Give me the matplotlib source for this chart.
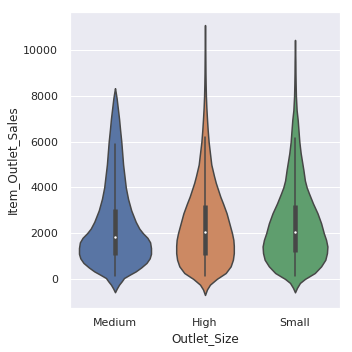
import numpy as np
import matplotlib
matplotlib.use("Agg")
import matplotlib.pyplot as plt
import seaborn as sns

sns.set_theme(style="darkgrid")

sizes = ["Medium", "High", "Small"]

# violin outlines: sales value -> half width (category units)
medium_y = [-580, -420, -250, -100, 40, 200, 330, 500, 700, 900, 1100, 1350, 1600,
            1800, 2000, 2200, 2500, 3000, 3500, 4000, 4500, 5000, 5500, 6000, 6500,
            7000, 7500, 7900, 8150, 8340]
medium_w = [0, 0.02, 0.045, 0.075, 0.10, 0.17, 0.23, 0.29, 0.35, 0.385, 0.40, 0.40,
            0.39, 0.36, 0.31, 0.27, 0.23, 0.18, 0.145, 0.12, 0.105, 0.09, 0.08, 0.07,
            0.057, 0.045, 0.03, 0.018, 0.008, 0]

high_y = [-700, -460, -250, 0, 260, 550, 840, 1130, 1450, 1710, 2000, 2435, 2870,
          3300, 3600, 3900, 4200, 4500, 5000, 5500, 6000, 6500, 7000, 7500, 8000,
          8500, 9000, 9500, 10000, 10500, 11100]
high_w = [0, 0.022, 0.055, 0.13, 0.23, 0.285, 0.31, 0.32, 0.32, 0.315, 0.30, 0.27,
          0.24, 0.20, 0.17, 0.145, 0.12, 0.10, 0.07, 0.055, 0.04, 0.03, 0.022, 0.015,
          0.01, 0.007, 0.005, 0.004, 0.003, 0.002, 0]

small_y = [-585, -390, -174, 0, 260, 550, 840, 1130, 1420, 1710, 2000, 2435, 2870,
           3300, 3740, 4000, 4300, 4770, 5500, 6000, 6950, 7380, 8000, 8500, 9000,
           9500, 10000, 10450]
small_w = [0, 0.022, 0.055, 0.11, 0.22, 0.29, 0.337, 0.355, 0.36, 0.345, 0.32, 0.29,
           0.25, 0.20, 0.155, 0.13, 0.11, 0.093, 0.063, 0.048, 0.03, 0.018, 0.01,
           0.007, 0.005, 0.004, 0.002, 0]

# inner box
q1 = [1030, 1060, 1170]
q2 = [1830, 2050, 2050]
q3 = [3060, 3250, 3250]
w_lo = [110, 110, 140]
w_hi = [5880, 6220, 6160]

ys = [medium_y, high_y, small_y]
ws = [medium_w, high_w, small_w]

colors = [sns.desaturate(c, 0.75) for c in sns.color_palette("deep", 3)]
gray = "#474747"

fig = plt.figure(figsize=(352 / 72, 352 / 72), dpi=72)
ax = fig.add_axes([70 / 352, 44 / 352, 270 / 352, 296 / 352])

for i in range(3):
    y = np.array(ys[i])
    w = np.array(ws[i])
    ax.fill_betweenx(y, i - w, i + w, facecolor=colors[i], edgecolor=gray,
                     linewidth=1.5, zorder=1)
    ax.plot([i, i], [w_lo[i], w_hi[i]], color=gray, linewidth=1.5, zorder=2)
    ax.plot([i, i], [q1[i], q3[i]], color=gray, linewidth=4.5,
            solid_capstyle="butt", zorder=2)
    ax.scatter(i, q2[i], s=9, color="white", edgecolor=gray, linewidth=0.5, zorder=3)

ax.set_xlim(-0.5, 2.5)
ax.set_ylim(-1270, 11670)
ax.set_xticks(range(3))
ax.set_xticklabels(sizes)
ax.set_yticks(range(0, 10001, 2000))
ax.xaxis.grid(False)
ax.tick_params(axis="both", length=0, labelsize=11)
ax.tick_params(axis="x", pad=10)
ax.tick_params(axis="y", pad=12)
ax.set_xlabel("Outlet_Size", fontsize=12, labelpad=4)
ax.set_ylabel("Item_Outlet_Sales", fontsize=12)

fig.savefig("out.png", dpi=72)
